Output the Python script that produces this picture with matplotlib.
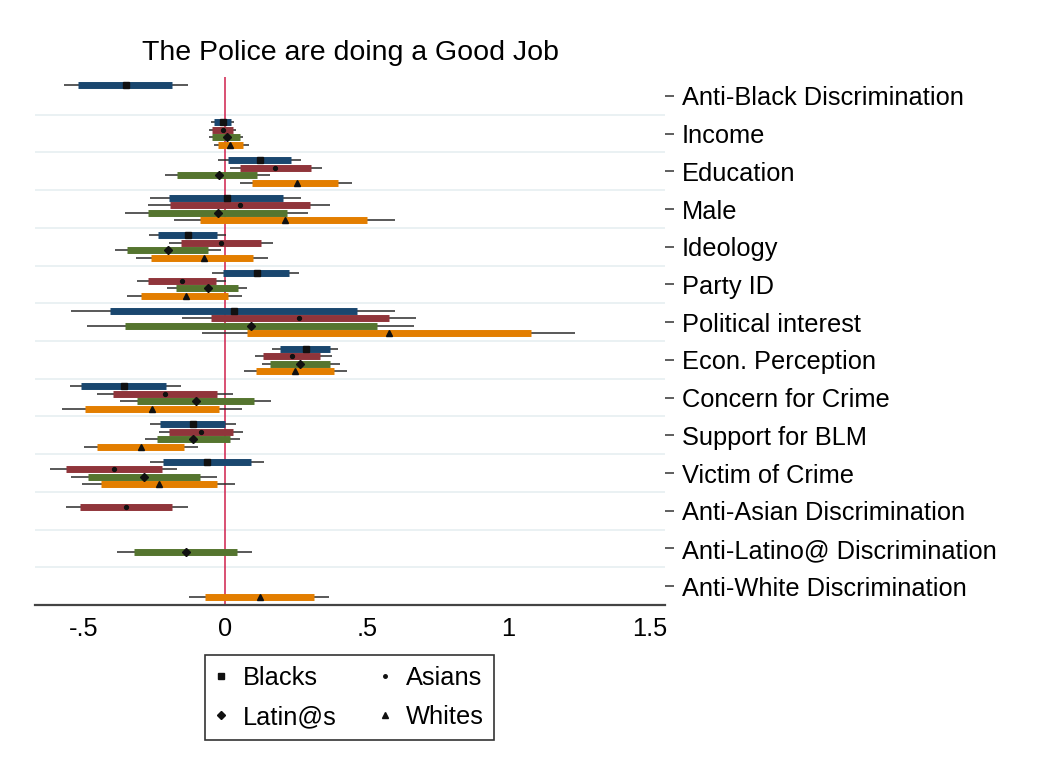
import numpy as np
import matplotlib
matplotlib.use("Agg")
import matplotlib.pyplot as plt
from matplotlib.lines import Line2D

plt.rcParams["font.family"] = ["Liberation Sans", "DejaVu Sans"]

# ---- coefficient table -------------------------------------------------
variables = [
    "Anti-Black Discrimination", "Income", "Education", "Male", "Ideology",
    "Party ID", "Political interest", "Econ. Perception", "Concern for Crime",
    "Support for BLM", "Victim of Crime", "Anti-Asian Discrimination",
    "Anti-Latino@ Discrimination", "Anti-White Discrimination",
]
nan = np.nan

# point estimates
blacks_b = [-0.351, -0.009, 0.122, 0.006, -0.131, 0.112, 0.032, 0.284, -0.357, -0.114, -0.064, nan, nan, nan]
asians_b = [nan, -0.009, 0.177, 0.054, -0.016, -0.151, 0.262, 0.235, -0.212, -0.086, -0.393, -0.351, nan, nan]
latinos_b = [nan, 0.007, -0.023, -0.025, -0.201, -0.061, 0.093, 0.265, -0.104, -0.113, -0.286, nan, -0.139, nan]
whites_b = [nan, 0.019, 0.254, 0.210, -0.075, -0.139, 0.580, 0.246, -0.258, -0.298, -0.233, nan, nan, 0.122]

# 95% intervals (thick bars)
blacks_lo95 = [-0.519, -0.040, 0.012, -0.197, -0.236, -0.009, -0.407, 0.194, -0.507, -0.230, -0.219, nan, nan, nan]
blacks_hi95 = [-0.187, 0.022, 0.232, 0.206, -0.028, 0.226, 0.465, 0.372, -0.207, 0.001, 0.090, nan, nan, nan]
asians_lo95 = [nan, -0.045, 0.052, -0.193, -0.157, -0.272, -0.051, 0.133, -0.397, -0.197, -0.562, -0.513, nan, nan]
asians_hi95 = [nan, 0.028, 0.304, 0.300, 0.126, -0.033, 0.578, 0.336, -0.028, 0.028, -0.223, -0.187, nan, nan]
latinos_lo95 = [nan, -0.045, -0.168, -0.272, -0.346, -0.174, -0.352, 0.158, -0.310, -0.241, -0.483, nan, -0.320, nan]
latinos_hi95 = [nan, 0.052, 0.114, 0.217, -0.059, 0.046, 0.535, 0.372, 0.103, 0.016, -0.088, nan, 0.042, nan]
whites_lo95 = [nan, -0.026, 0.096, -0.088, -0.261, -0.297, 0.078, 0.109, -0.494, -0.451, -0.439, nan, nan, -0.070]
whites_hi95 = [nan, 0.064, 0.397, 0.501, 0.097, 0.012, 1.081, 0.386, -0.020, -0.145, -0.028, nan, nan, 0.313]

# 99% intervals (thin lines)
blacks_lo99 = [-0.567, -0.050, -0.026, -0.265, -0.267, -0.045, -0.545, 0.165, -0.549, -0.265, -0.265, nan, nan, nan]
blacks_hi99 = [-0.132, 0.032, 0.267, 0.267, 0.005, 0.262, 0.600, 0.397, -0.157, 0.039, 0.139, nan, nan, nan]
asians_lo99 = [nan, -0.057, 0.017, -0.271, -0.197, -0.310, -0.151, 0.104, -0.451, -0.233, -0.617, -0.562, nan, nan]
asians_hi99 = [nan, 0.039, 0.342, 0.372, 0.170, 0.003, 0.675, 0.378, 0.028, 0.064, -0.171, -0.132, nan, nan]
latinos_lo99 = [nan, -0.057, -0.212, -0.352, -0.388, -0.204, -0.487, 0.129, -0.371, -0.284, -0.545, nan, -0.383, nan]
latinos_hi99 = [nan, 0.064, 0.158, 0.293, -0.016, 0.078, 0.668, 0.404, 0.162, 0.052, -0.028, nan, 0.096, nan]
whites_lo99 = [nan, -0.038, 0.054, -0.180, -0.316, -0.345, -0.081, 0.067, -0.574, -0.499, -0.506, nan, nan, -0.129]
whites_hi99 = [nan, 0.086, 0.448, 0.600, 0.151, 0.059, 1.235, 0.429, 0.059, -0.096, 0.035, nan, nan, 0.368]

groups = ["Blacks", "Asians", "Latin@s", "Whites"]
xtick_values = [-0.5, 0, 0.5, 1, 1.5]
xtick_labels = ["-.5", "0", ".5", "1", "1.5"]

# ---- styling -------------------------------------------------------------
series = [
    (blacks_b, blacks_lo95, blacks_hi95, blacks_lo99, blacks_hi99),
    (asians_b, asians_lo95, asians_hi95, asians_lo99, asians_hi99),
    (latinos_b, latinos_lo95, latinos_hi95, latinos_lo99, latinos_hi99),
    (whites_b, whites_lo95, whites_hi95, whites_lo99, whites_hi99),
]
bar_colors = ["#1a476f", "#90353b", "#55752f", "#e37e00"]
markers = ["s", "o", "D", "^"]
msizes = [4.8, 2.8, 4.4, 4.6]
offsets = [-0.3, -0.1, 0.1, 0.3]
label_size = 18.3

fig = plt.figure(figsize=(10.5, 7.7), dpi=100)
ax = fig.add_axes([35 / 1050, 1 - 605 / 770, 630 / 1050, 528 / 770])

pos = np.arange(1, len(variables) + 1)

# light separators between variables
for y in np.arange(1.5, len(variables), 1.0):
    ax.axhline(y, color="#e8f0f2", lw=1.3, zorder=0)

# reference line at zero
ax.axvline(0, color="#d0204c", lw=1.1, zorder=1)

handles = []
for (b, lo95, hi95, lo99, hi99), col, mk, ms, off, name in zip(
        series, bar_colors, markers, msizes, offsets, groups):
    b = np.asarray(b, float)
    y = pos + off
    ok = ~np.isnan(b)
    ax.hlines(y[ok], np.asarray(lo99)[ok], np.asarray(hi99)[ok],
              color="#2b2b2b", lw=1.1, zorder=2)
    ax.hlines(y[ok], np.asarray(lo95)[ok], np.asarray(hi95)[ok],
              color=col, lw=5.0, zorder=3)
    h, = ax.plot(b[ok], y[ok], linestyle="none", marker=mk, markersize=ms,
                 color="#111111", zorder=4, label=name)
    handles.append(h)

ax.set_xlim(-0.671, 1.553)
ax.set_ylim(len(variables) + 0.5, 0.5)

ax.set_xticks(xtick_values)
ax.set_xticklabels(xtick_labels)
ax.set_yticks(pos)
ax.set_yticklabels(variables)

ax.yaxis.tick_right()
ax.tick_params(axis="y", which="both", length=6.5, width=1.1, color="#333333",
               pad=5.5, labelsize=label_size, left=False, right=True)
ax.tick_params(axis="x", length=0, pad=9, labelsize=label_size)

for side in ["left", "right", "top"]:
    ax.spines[side].set_visible(False)
ax.spines["bottom"].set_color("#444444")
ax.spines["bottom"].set_linewidth(1.6)

fig.text(350 / 1050, 1 - 53 / 770, "The Police are doing a Good Job",
         ha="center", va="center", fontsize=20.5)

# legend below the plot, two columns
leg_handles = [Line2D([], [], linestyle="none", marker=h.get_marker(),
                      markersize=h.get_markersize() * 0.9, color="#111111")
               for h in handles]
order = [0, 2, 1, 3]
leg = fig.legend([leg_handles[i] for i in order], [groups[i] for i in order],
                 ncol=2, loc="center", bbox_to_anchor=(349.5 / 1050, 1 - 697.5 / 770),
                 fontsize=label_size, frameon=True, fancybox=False, edgecolor="black",
                 handlelength=0.5, handletextpad=0.6, columnspacing=1.65,
                 borderpad=0.4, labelspacing=0.62)
leg.get_frame().set_linewidth(1.2)

fig.savefig("out.png", dpi=100, facecolor="white")
